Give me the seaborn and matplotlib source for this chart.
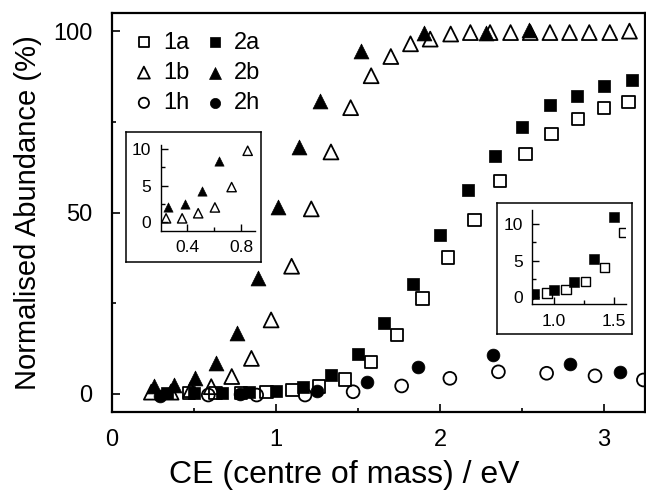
import numpy as np
import matplotlib
matplotlib.use("Agg")
import matplotlib.pyplot as plt
import seaborn as sns

# --- data ---
x_1a = [0.47, 0.63, 0.785, 0.943, 1.10, 1.262, 1.42, 1.58, 1.736, 1.894, 2.05, 2.21, 2.366, 2.52, 2.68, 2.84, 3.0, 3.15]
y_1a = [0.2, 0.3, 0.3, 0.5, 1.05, 2.1, 4.0, 8.85, 16.2, 26.3, 37.6, 47.9, 58.7, 66.2, 71.7, 75.8, 78.8, 80.4]

x_2a = [0.337, 0.50, 0.67, 0.835, 1.0, 1.167, 1.335, 1.50, 1.66, 1.835, 2.0, 2.17, 2.335, 2.50, 2.67, 2.835, 3.0, 3.17]
y_2a = [0.2, 0.3, 0.3, 0.4, 0.9, 2.0, 5.2, 11.0, 19.5, 30.4, 43.9, 56.1, 65.7, 73.7, 79.7, 82.2, 85.0, 86.5]

x_1b = [0.24, 0.36, 0.48, 0.605, 0.73, 0.85, 0.97, 1.095, 1.215, 1.335, 1.455, 1.58, 1.70,
        1.82, 1.94, 2.065, 2.185, 2.305, 2.43, 2.55, 2.67, 2.79, 2.91, 3.035, 3.155]
y_1b = [0.5, 0.5, 1.2, 2.0, 4.8, 9.8, 20.4, 35.2, 51.0, 66.7, 78.9, 87.7, 93.0,
        96.5, 97.8, 99.2, 99.6, 99.6, 99.6, 99.6, 99.6, 99.6, 99.6, 99.6, 100.0]

x_2b = [0.253, 0.38, 0.507, 0.634, 0.76, 0.888, 1.014, 1.142, 1.268, 1.52, 1.90, 2.28, 2.54]
y_2b = [2.1, 2.5, 4.3, 8.4, 16.9, 32.0, 51.5, 68.0, 80.7, 94.4, 99.6, 99.6, 100.3]

x_1h = [0.587, 0.882, 1.177, 1.47, 1.766, 2.06, 2.356, 2.65, 2.945, 3.24]
y_1h = [-0.3, -0.3, -0.3, 0.6, 2.2, 4.3, 6.1, 5.7, 5.0, 3.85]

x_2h = [0.29, 0.78, 1.248, 1.553, 1.864, 2.325, 2.79, 3.10]
y_2h = [-0.5, 0.0, 0.9, 3.4, 7.3, 10.7, 8.25, 6.1]

sns.set_theme(style="ticks")
plt.rcParams['font.family'] = ['Liberation Sans', 'DejaVu Sans']
plt.rcParams['text.color'] = 'black'
plt.rcParams['axes.labelcolor'] = 'black'
plt.rcParams['xtick.color'] = 'black'
plt.rcParams['ytick.color'] = 'black'
plt.rcParams['axes.edgecolor'] = 'black'

fig = plt.figure(figsize=(6.46, 4.9), dpi=100)
ax = fig.add_axes([0.1734, 0.159, 0.8251, 0.8145])


def draw(axis, x, y, marker, filled, s, lw, label=None):
    if filled:
        sns.scatterplot(x=x, y=y, marker=marker, s=s, color='black', edgecolor='black',
                        linewidth=lw, ax=axis, label=label, zorder=3)
    else:
        sns.scatterplot(x=x, y=y, marker=marker, s=s, facecolor='none', edgecolor='black',
                        linewidth=lw, ax=axis, label=label, zorder=3)


draw(ax, x_1a, y_1a, 's', False, 80, 1.3, '1a')
draw(ax, x_1b, y_1b, '^', False, 115, 1.3, '1b')
draw(ax, x_1h, y_1h, 'o', False, 85, 1.3, '1h')
draw(ax, x_2a, y_2a, 's', True, 80, 0.5, '2a')
draw(ax, x_2b, y_2b, '^', True, 115, 0.5, '2b')
draw(ax, x_2h, y_2h, 'o', True, 85, 0.5, '2h')

ax.set_xlim(0, 3.25)
ax.set_ylim(-5, 105)
ax.set_xticks([0, 1, 2, 3])
ax.set_xticks([0.5, 1.5, 2.5], minor=True)
ax.set_yticks([0, 50, 100])
ax.set_yticks([25, 75], minor=True)
ax.tick_params(which='both', direction='in', width=1.2, labelsize=17)
ax.tick_params(which='major', length=6)
ax.tick_params(axis='x', which='major', pad=12)
ax.tick_params(axis='y', which='major', pad=14)
ax.tick_params(which='minor', length=3)
for sp in ax.spines.values():
    sp.set_linewidth(1.6)
ax.set_xlabel('CE (centre of mass) / eV', fontsize=23, labelpad=6)
ax.xaxis.set_label_coords(0.435, -0.12)
ax.set_ylabel('Normalised Abundance (%)', fontsize=21, labelpad=8)

leg = ax.legend(loc='upper left', bbox_to_anchor=(0.0, 0.995), ncol=2, frameon=False,
                fontsize=17, markerscale=0.8, handletextpad=0.15, columnspacing=0.45,
                labelspacing=0.35, borderaxespad=0.3, handlelength=1.3)

# --- inset frames ---
for rect in ([0.195, 0.466, 0.209, 0.2653], [0.7698, 0.3184, 0.209, 0.2667]):
    fr = fig.add_axes(rect)
    fr.set_xticks([])
    fr.set_yticks([])
    fr.patch.set_facecolor('white')
    for sp in fr.spines.values():
        sp.set_linewidth(1.1)


def style_inset(axis):
    axis.patch.set_alpha(0)
    axis.spines['top'].set_visible(False)
    axis.spines['right'].set_visible(False)
    for k in ('left', 'bottom'):
        axis.spines[k].set_linewidth(1.0)
    axis.tick_params(which='both', direction='in', width=1.0, labelsize=12.5)
    axis.tick_params(which='major', length=5, pad=7)
    axis.tick_params(which='minor', length=3)
    axis.set_xlabel('')
    axis.set_ylabel('')


# low energy inset (1b / 2b)
ins1 = fig.add_axes([0.2488, 0.5292, 0.146, 0.175])
draw(ins1, x_1b, y_1b, '^', False, 45, 1.0)
draw(ins1, x_2b, y_2b, '^', True, 45, 0.4)
ins1.set_xlim(0.2, 0.905)
ins1.set_ylim(-1.2, 10.6)
ins1.set_xticks([0.4, 0.8])
ins1.set_xticks([0.6], minor=True)
ins1.set_yticks([0, 5, 10])
ins1.set_yticks([2.5, 7.5], minor=True)
ins1.set_xticklabels(['0.4', '0.8'])
style_inset(ins1)

# inset for 1a / 2a
ins2 = fig.add_axes([0.824, 0.3796, 0.145, 0.192])
draw(ins2, x_1a, y_1a, 's', False, 45, 1.0)
draw(ins2, x_2a, y_2a, 's', True, 45, 0.4)
ins2.set_xlim(0.82, 1.60)
ins2.set_ylim(-1.0, 12.0)
ins2.set_xticks([1.0, 1.5])
ins2.set_xticks([1.25], minor=True)
ins2.set_yticks([0, 5, 10])
ins2.set_yticks([2.5, 7.5], minor=True)
ins2.set_xticklabels(['1.0', '1.5'])
style_inset(ins2)

fig.savefig('out.png', dpi=100)
